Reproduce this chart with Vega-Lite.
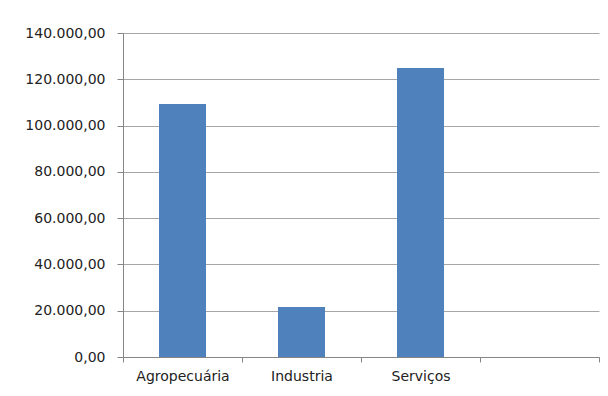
{
  "$schema": "https://vega.github.io/schema/vega-lite/v6.json",
  "autosize": "none",
  "width": 476,
  "height": 324,
  "padding": {"left": 123, "top": 33, "right": 9, "bottom": 39},
  "background": "white",
  "config": {"view": {"stroke": null}, "font": "DejaVu Sans"},
  "data": {"values": [
    {"setor": "Agropecuária", "valor": 109300},
    {"setor": "Industria", "valor": 21600},
    {"setor": "Serviços", "valor": 124900}
  ]},
  "mark": {"type": "bar", "color": "#4F81BD", "width": {"band": 0.395}},
  "encoding": {
    "x": {
      "field": "setor", "type": "nominal",
      "scale": {"domain": ["Agropecuária", "Industria", "Serviços", " "], "paddingInner": 0, "paddingOuter": 0},
      "axis": {"title": null, "labelAngle": 0, "tickBand": "extent", "grid": false, "domainColor": "#868686", "tickColor": "#868686", "tickSize": 5, "labelFontSize": 14, "labelColor": "#222222", "labelPadding": 7, "labelFont": "DejaVu Sans"}
    },
    "y": {
      "field": "valor", "type": "quantitative",
      "scale": {"domain": [0, 140000]},
      "axis": {"title": null, "values": [0, 20000, 40000, 60000, 80000, 100000, 120000, 140000], "labelExpr": "replace(replace(replace(format(datum.value, ',.2f'), ',', '#'), '.', ','), '#', '.')", "grid": true, "gridColor": "#a6a6a6", "domainColor": "#868686", "tickColor": "#868686", "tickSize": 6, "labelFontSize": 14, "labelColor": "#222222", "labelPadding": 12, "labelFont": "DejaVu Sans"}
    }
  }
}
